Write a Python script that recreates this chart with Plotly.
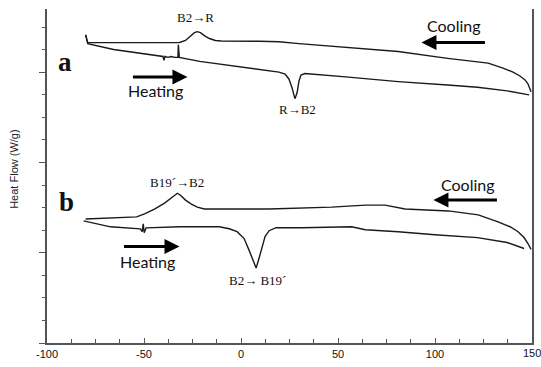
import plotly.graph_objects as go

# ---- data (temperature in °C, heat flow in arbitrary W/g units) ----
a_cool_T = [-80.1, -79.0, -57.1, -31.7, -28.6, -26.1, -24.0, -22.5, -20.9, -18.9, -16.3, -13.2, -10.2,
            9.4, 19.6, 29.9, 55.4, 81.0, 106.5, 127.4, 135.1, 140.2, 143.8, 146.4, 147.9, 149.0, 149.5]
a_cool_H = [3.414, 3.327, 3.327, 3.329, 3.351, 3.394, 3.438, 3.449, 3.438, 3.405, 3.373, 3.351, 3.345,
            3.342, 3.338, 3.316, 3.273, 3.229, 3.153, 3.100, 3.045, 3.001, 2.958, 2.914, 2.871, 2.816, 2.783]

a_heat_T = [-80.1, -79.0, -65.7, -51.9, -40.2, -39.7, -39.2, -37.6, -36.1, -34.0, -32.5, -32.3, -31.8,
            -21.3, -5.9, 9.4, 19.6, 22.7, 24.7, 26.3, 27.8, 28.9, 29.9, 30.9, 33.0, 55.4, 81.0, 106.5,
            121.9, 137.2, 148.5]
a_heat_H = [3.414, 3.316, 3.251, 3.207, 3.174, 3.131, 3.174, 3.164, 3.174, 3.164, 3.164, 3.305, 3.164,
            3.120, 3.076, 3.033, 3.001, 2.980, 2.925, 2.827, 2.707, 2.772, 2.903, 2.969, 2.985, 2.945,
            2.896, 2.858, 2.833, 2.793, 2.749]

b_cool_T = [-80.1, -53.8, -49.7, -44.6, -39.4, -35.8, -33.8, -32.8, -31.2, -28.6, -25.6, -22.5, -18.9,
            14.5, 46.7, 64.1, 74.3, 84.6, 106.9, 122.3, 132.5, 138.7, 142.8, 145.9, 147.9, 149.5]
b_cool_H = [1.374, 1.397, 1.430, 1.484, 1.550, 1.615, 1.648, 1.659, 1.637, 1.583, 1.539, 1.506, 1.484,
            1.484, 1.505, 1.527, 1.527, 1.484, 1.463, 1.419, 1.342, 1.288, 1.233, 1.168, 1.102, 1.037]

b_heat_T = [-81.1, -67.3, -51.9, -50.9, -50.4, -49.9, -48.9, -31.5, -11.2, -6.1, -2.0, 1.6, 4.2, 6.3,
            7.8, 9.3, 10.9, 12.4, 14.5, 18.1, 31.4, 46.7, 57.0, 64.1, 81.0, 99.9, 121.9, 137.2, 145.9]
b_heat_H = [1.353, 1.287, 1.265, 1.233, 1.320, 1.222, 1.276, 1.287, 1.288, 1.266, 1.233, 1.157, 1.026,
            0.906, 0.830, 0.939, 1.070, 1.179, 1.244, 1.277, 1.276, 1.287, 1.287, 1.255, 1.233, 1.200,
            1.167, 1.113, 1.047]

x_ticks = [-100, -50, 0, 50, 100]
x_tick_labels = ["-100", "-50", "0", "50", "100"]
x_last_tick = 150
y_ticks = [0, 1, 2, 3]

line_style = dict(color="#1a1a1a", width=1.4)

fig = go.Figure()
for T, H in [(a_cool_T, a_cool_H), (a_heat_T, a_heat_H), (b_cool_T, b_cool_H), (b_heat_T, b_heat_H)]:
    fig.add_trace(go.Scatter(x=T, y=H, mode="lines", line=line_style, showlegend=False,
                             hoverinfo="skip"))

serif = "Liberation Serif"
sans = "Lato"
axis_font = "Arial, Liberation Sans"

def txt(x, y, s, size, family, bold=False, bg=None):
    fig.add_annotation(x=x, y=y, xref="x", yref="y", text=(f"<b>{s}</b>" if bold else s),
                       showarrow=False, font=dict(family=family, size=size, color="#111"),
                       bgcolor=bg, xanchor="center", yanchor="middle")

def arrow(x, y, ax):
    fig.add_annotation(x=x, y=y, xref="x", yref="y", ax=ax, ay=0, text="", showarrow=True,
                       arrowhead=2, arrowsize=1.0, arrowwidth=3, arrowcolor="#000", standoff=0)

txt(-23.5, 3.602, "B2→R", 13, serif)
txt(28.9, 2.587, "R→B2", 13, serif)
txt(110.0, 3.514, "Cooling", 16, sans)
txt(-44.0, 2.794, "Heating", 16, sans)
txt(-90.8, 3.111, "a", 27, serif, bold=True, bg="white")
txt(-32.8, 1.779, "B19´→B2", 13, serif)
txt(8.3, 0.688, "B2→ B19´", 13, serif)
txt(-48.2, 0.906, "Heating", 16, sans)
txt(117.1, 1.757, "Cooling", 16, sans)
txt(-90.2, 1.561, "b", 27, serif, bold=True, bg="white")

arrow(-27.6, 2.947, -56)
arrow(93.0, 3.329, 65)
arrow(-31.7, 1.070, -57)
arrow(99.2, 1.583, 65)

# last x tick label (sits at the edge of the page)
fig.add_annotation(x=x_last_tick, y=0, xref="x", yref="y", text=str(x_last_tick), showarrow=False,
                   xanchor="center", yanchor="top", yshift=-2,
                   font=dict(family=axis_font, size=11, color="#111"))

fig.add_annotation(x=-0.067, y=0.52, xref="paper", yref="paper", text="Heat Flow (W/g)",
                   textangle=-90, showarrow=False, xanchor="center", yanchor="middle",
                   font=dict(family=axis_font, size=11, color="#222"))

fig.update_xaxes(range=[-100, 150], tickvals=x_ticks, ticktext=x_tick_labels,
                 showgrid=False, zeroline=False, showline=True, linecolor="#555", linewidth=1.5,
                 ticks="inside", ticklen=5, tickcolor="#555",
                 minor=dict(dtick=12.5, tick0=-100, ticks="inside", ticklen=4, tickcolor="#555"),
                 tickfont=dict(family=axis_font, size=11, color="#111"))
fig.update_yaxes(range=[0, 3.7], tickvals=y_ticks, showticklabels=False,
                 showgrid=False, zeroline=False, showline=True, linecolor="#555", linewidth=1.5,
                 mirror=True, ticks="outside", ticklen=6, tickcolor="#555",
                 minor=dict(dtick=0.25, tick0=0, ticks="outside", ticklen=3, tickcolor="#555"))

fig.update_layout(width=541, height=367, margin=dict(l=47, r=7, t=9, b=19),
                  plot_bgcolor="white", paper_bgcolor="white")

fig.write_html("out.html")
